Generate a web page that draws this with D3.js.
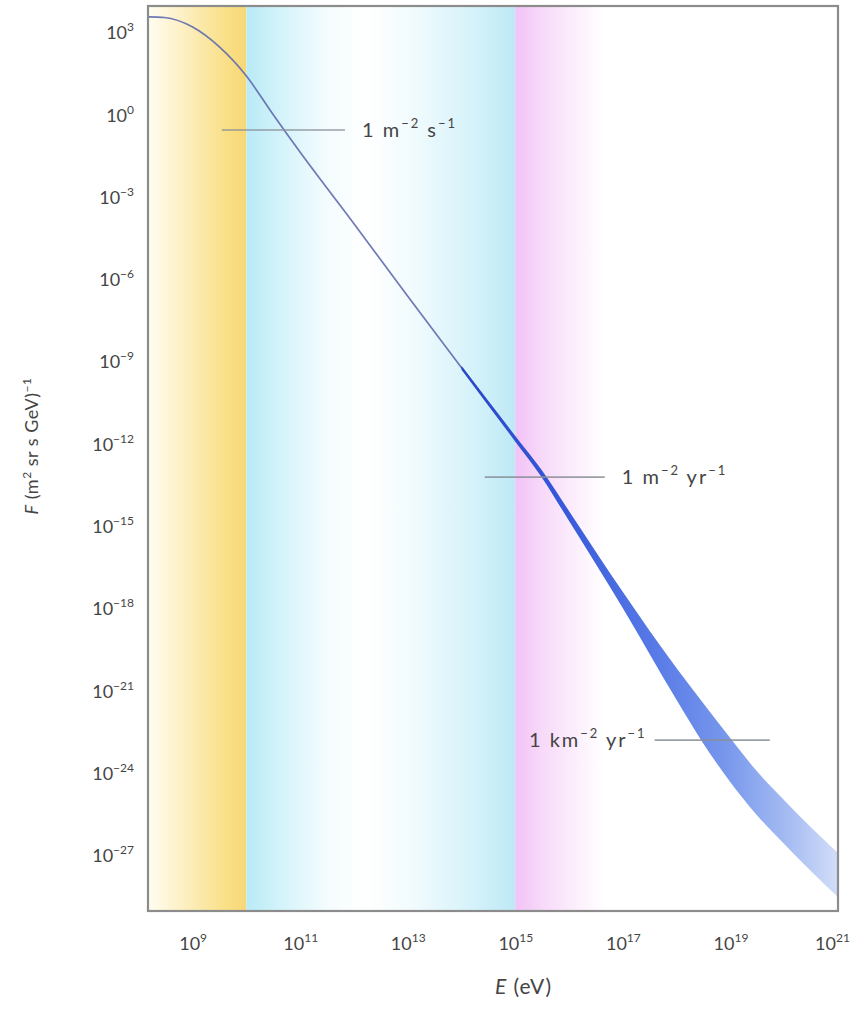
<!DOCTYPE html>
<html>
<head>
<meta charset="utf-8">
<script src="https://cdn.jsdelivr.net/npm/d3@7"></script>
<style>
  body { margin: 0; background: #fff; }
  text { font-family: Lato, "Open Sans", sans-serif; fill: #454545; white-space: pre; }
</style>
</head>
<body>
<div id="chart"></div>
<script>
/* cosmic ray spectrum */
let energy = [1.5e8, 3e8, 1e9, 3e9, 1e10, 3e10, 1e11, 1e12, 1e13, 1e14, 1e15];
let flux = [4.0e3, 3.8e3, 1.7e3, 350, 28, 1.25, 0.046, 1.15e-4, 2.6e-7, 6.4e-10, 1.65e-12];

let bandEnergy = [1e14, 1e15, 3e15, 1e16, 1e17, 1e18, 3e18, 1e19, 3e19, 1e20, 3e20, 1e21];
let bandHigh = [7.6e-10, 2.1e-12, 1.3e-13, 3.8e-15, 4.3e-18, 7.1e-21, 4.2e-22, 2.0e-23, 1.35e-24, 1.1e-25, 1.23e-26, 1.3e-27];
let bandLow = [5.5e-10, 1.3e-12, 7.2e-14, 1.66e-15, 1.1e-18, 4.9e-22, 1.45e-23, 5.0e-25, 3.4e-26, 2.75e-27, 3.1e-28, 3.2e-29];

let xTicks = [1e9, 1e11, 1e13, 1e15, 1e17, 1e19, 1e21];
let yTicks = [1e3, 1e0, 1e-3, 1e-6, 1e-9, 1e-12, 1e-15, 1e-18, 1e-21, 1e-24, 1e-27];

// integral flux markers: flux level, energy span of the line, label parts (base, sup, base, sup)
let markFlux = [0.30, 6.6e-14, 1.7e-23];
let markFrom = [3.5e9, 2.7e14, 3.9e17];
let markTo = [6.8e11, 4.6e16, 5.4e19];
let markSide = ["right", "right", "left"];
let markText = [
  ["1 m", "−2", " s", "−1"],
  ["1 m", "−2", " yr", "−1"],
  ["1 km", "−2", " yr", "−1"]
];

// energy regions shaded behind the curve
let regionFrom = [1.48e8, 1e10, 1e15];
let regionTo = [1e10, 1e15, 4.5e16];

let width = 858;
let height = 1009;
let margin = { top: 6, right: 20, bottom: 98, left: 148 };
let w = width - margin.left - margin.right;
let h = height - margin.top - margin.bottom;

let x = d3.scaleLog().domain([1.48e8, 1e21]).range([0, w]);
let y = d3.scaleLog().domain([1e-29, 1e4]).range([h, 0]);

let svg = d3.select("#chart")
  .append("svg")
  .attr("width", width)
  .attr("height", height)
  .append("g")
  .attr("transform", `translate(${margin.left},${margin.top})`);

let defs = svg.append("defs");

function gradient(id, stops, x1, x2) {
  let g = defs.append("linearGradient")
    .attr("id", id)
    .attr("gradientUnits", "userSpaceOnUse")
    .attr("x1", x1).attr("x2", x2)
    .attr("y1", 0).attr("y2", 0);
  stops.forEach(s => g.append("stop").attr("offset", s[0]).attr("stop-color", s[1]));
}

gradient("reg0", [[0, "#fffdf2"], [0.35, "#fdf0c4"], [0.8, "#f9df86"], [1, "#f7d775"]], x(regionFrom[0]), x(regionTo[0]));
gradient("reg1", [[0, "#b8eaf6"], [0.12, "#d2f3fa"], [0.3, "#f4fcfe"], [0.45, "#ffffff"], [0.62, "#f1fbfd"], [0.85, "#d4f2fa"], [1, "#bde9f5"]], x(regionFrom[1]), x(regionTo[1]));
gradient("reg2", [[0, "#f2c2f6"], [0.3, "#f7d9f9"], [0.7, "#fcf0fd"], [1, "#ffffff"]], x(regionFrom[2]), x(regionTo[2]));
gradient("bandFill", [[0, "#2a48c8"], [0.25, "#3456d8"], [0.5, "#5678e6"], [0.7, "#7797ec"], [0.86, "#a3baf2"], [1, "#d2ddf8"]], x(1e14), x(1e21));

svg.append("g")
  .selectAll("rect")
  .data(regionFrom)
  .enter()
  .append("rect")
  .attr("x", (d, i) => x(d))
  .attr("width", (d, i) => x(regionTo[i]) - x(d))
  .attr("y", 0)
  .attr("height", h)
  .style("fill", (d, i) => `url(#reg${i})`);

/* curve */
let pts = energy.map((e, i) => ({ e: e, f: flux[i] }));
let band = bandEnergy.map((e, i) => ({ e: e, hi: bandHigh[i], lo: bandLow[i] }));

let line = d3.line()
  .x(d => x(d.e))
  .y(d => y(d.f))
  .curve(d3.curveMonotoneX);

let area = d3.area()
  .x(d => x(d.e))
  .y0(d => y(d.lo))
  .y1(d => y(d.hi))
  .curve(d3.curveMonotoneX);

svg.append("path")
  .attr("d", line(pts))
  .style("fill", "none")
  .style("stroke", "#5f6aae")
  .style("stroke-opacity", 0.9)
  .style("stroke-width", 1.7);

svg.append("path")
  .attr("d", area(band))
  .style("fill", "url(#bandFill)")
  .style("stroke", "none");

/* integral flux markers */
let marks = svg.append("g").attr("class", "marks");

marks.selectAll("line")
  .data(markFlux)
  .enter()
  .append("line")
  .attr("x1", (d, i) => x(markFrom[i]))
  .attr("x2", (d, i) => x(markTo[i]))
  .attr("y1", d => y(d))
  .attr("y2", d => y(d))
  .style("stroke", "#8a8e96")
  .style("stroke-opacity", 0.85)
  .style("stroke-width", 1.6);

marks.selectAll("text")
  .data(markFlux)
  .enter()
  .append("text")
  .attr("x", (d, i) => markSide[i] == "right" ? x(markTo[i]) + 17 : x(markFrom[i]) - 8)
  .attr("y", d => y(d) + 7)
  .attr("text-anchor", (d, i) => markSide[i] == "right" ? "start" : "end")
  .style("font-size", "20px")
  .style("letter-spacing", "2px")
  .each(function(d, i) {
    let t = d3.select(this);
    markText[i].forEach((part, k) => {
      let sup = k % 2 == 1;
      t.append("tspan")
        .attr("dy", sup ? -9 : (k == 0 ? 0 : 9))
        .style("font-size", sup ? "13px" : "20px")
        .text(part);
    });
  });

/* frame */
svg.append("rect")
  .attr("width", w)
  .attr("height", h)
  .style("fill", "none")
  .style("stroke", "#8c8c8c")
  .style("stroke-width", 2.2);

/* axes */
function powLabel(d) {
  let t = d3.select(this).text(null);
  let e = Math.round(Math.log10(d));
  t.append("tspan").text("10");
  t.append("tspan")
    .attr("dy", -8)
    .style("font-size", "12px")
    .text(e < 0 ? "−" + (-e) : String(e));
}

let xAxis = d3.axisBottom(x).tickValues(xTicks).tickSize(0).tickPadding(26).tickFormat("");
let yAxis = d3.axisLeft(y).tickValues(yTicks).tickSize(0).tickPadding(14).tickFormat("");

let gx = svg.append("g")
  .attr("transform", `translate(0,${h})`)
  .call(xAxis);
gx.select(".domain").remove();
gx.selectAll(".tick text")
  .attr("fill", null)
  .style("font-size", "18px")
  .attr("dx", d => d == 1e21 ? -6 : 0)
  .each(powLabel);

let gy = svg.append("g").call(yAxis);
gy.select(".domain").remove();
gy.selectAll(".tick text")
  .attr("fill", null)
  .attr("dy", "0.3em")
  .style("font-size", "18px")
  .each(powLabel);

/* axis titles */
let xt = svg.append("text")
  .attr("x", x(2e15) - 8)
  .attr("y", h + 83)
  .attr("text-anchor", "middle")
  .style("font-size", "21px")
  .style("letter-spacing", "1px");
xt.append("tspan").style("font-style", "italic").text("E");
xt.append("tspan").text(" (eV)");

let yt = svg.append("text")
  .attr("transform", `translate(${38 - margin.left},${440}) rotate(-90)`)
  .attr("text-anchor", "middle")
  .style("font-size", "18px")
  .style("letter-spacing", "0.5px");
yt.append("tspan").style("font-style", "italic").text("F");
yt.append("tspan").text(" (m");
yt.append("tspan").attr("dy", -7).style("font-size", "12px").text("2");
yt.append("tspan").attr("dy", 7).text(" sr s GeV)");
yt.append("tspan").attr("dy", -7).style("font-size", "12px").text("−1");
</script>
</body>
</html>
